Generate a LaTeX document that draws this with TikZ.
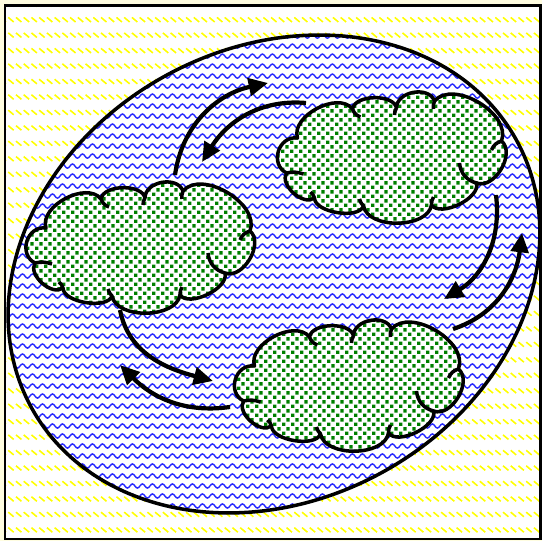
\documentclass[tikz,border=0pt]{standalone}
\usepackage{tikz}
\usetikzlibrary{arrows.meta, patterns, positioning}

\pgfdeclarepatternformonly{dashdiag}{\pgfqpoint{-1pt}{-1pt}}{\pgfqpoint{5.4pt}{9.8pt}}{\pgfqpoint{4.4pt}{8.8pt}}{%
  \pgfsetlinewidth{0.9pt}%
  \pgfpathmoveto{\pgfqpoint{0.3pt}{7.6pt}}%
  \pgfpathlineto{\pgfqpoint{3.4pt}{5pt}}%
  \pgfusepath{stroke}}

\pgfdeclarepatternformonly{bluewave}{\pgfqpoint{-0.5pt}{-0.5pt}}{\pgfqpoint{6.2pt}{6.2pt}}{\pgfqpoint{5.69pt}{5.69pt}}{%
  \pgfsetlinewidth{0.8pt}%
  \pgfpathmoveto{\pgfqpoint{0pt}{2.85pt}}%
  \pgfpathsine{\pgfqpoint{1.42pt}{1.2pt}}%
  \pgfpathcosine{\pgfqpoint{1.42pt}{-1.2pt}}%
  \pgfpathsine{\pgfqpoint{1.42pt}{-1.2pt}}%
  \pgfpathcosine{\pgfqpoint{1.43pt}{1.2pt}}%
  \pgfusepath{stroke}}

\pgfdeclarepatternformonly{greendots}{\pgfqpoint{0pt}{0pt}}{\pgfqpoint{5pt}{5pt}}{\pgfqpoint{5pt}{5pt}}{%
  \pgfpathrectangle{\pgfqpoint{0pt}{0pt}}{\pgfqpoint{2pt}{2pt}}%
  \pgfpathrectangle{\pgfqpoint{2.5pt}{2.5pt}}{\pgfqpoint{2pt}{2pt}}%
  \pgfusepath{fill}}

\begin{document}
\begin{tikzpicture}[x=0.02cm, y=0.02cm,
    cloudline/.style={draw, line width=2pt, line join=round},
    flow/.style={-{Triangle[length=11pt, width=10pt]}, line width=2.4pt},
    puffcloud/.pic={
      \coordinate (-c) at (0,0);
      \path[cloudline, preaction={fill=white}, pattern=greendots, pattern color=green!50!black]
        (-107,-15) to[bend left=80, looseness=1.35] (-96,20)
        to[bend left=80, looseness=0.95] (-41,49)
        to[bend left=80, looseness=0.85] (3,50)
        to[bend left=80, looseness=1.1] (41,57)
        to[bend left=80, looseness=0.95] (108,17)
        to[bend left=80, looseness=1.0] (83,-25)
        to[bend left=80, looseness=0.8] (38,-47)
        to[bend left=80, looseness=0.9] (-30,-48)
        to[bend left=80, looseness=0.75] (-79,-40)
        to[bend left=80, looseness=0.95] (-107,-15) -- cycle;
      % inner arcs
      \draw[cloudline] (-41,49) to[bend right=25] (-33,41);
      \draw[cloudline] (3,50) to[bend right=15] (1,43);
      \draw[cloudline] (41,57) to[bend right=15] (40,49);
      \draw[cloudline] (108,17) to[bend right=25] (98,8);
      \draw[cloudline] (83,-25) to[bend left=35] (66,-5);
      \draw[cloudline] (38,-47) to[bend left=15] (40,-39);
      \draw[cloudline] (-30,-48) to[bend left=15] (-34,-41);
      \draw[cloudline] (-79,-40) to[bend right=15] (-83,-34);
      \draw[cloudline] (-107,-15) to[bend left=15] (-90,-16);
    }
]
    % Page and pool
    \useasboundingbox (0,0) rectangle (542,541);
    \fill[yellow!12] (0,0) rectangle (542,541);
    \draw[line width=1.7pt, preaction={fill=white}, pattern=dashdiag, pattern color=yellow] (5,2) rectangle (540.5,535.5);
    \draw[line width=2pt, preaction={fill=white}, pattern=bluewave, pattern color=blue!85, rotate around={29:(274,267)}] (274,267) ellipse [x radius=5.54cm, y radius=4.52cm];

    % Clouds
    \pic (west) at (142,293) {puffcloud};
    \pic (north) at (393.5,383) {puffcloud};
    \pic (south) at (350.5,155) {puffcloud};

    % Arrow ends
    \coordinate (a1s) at (175,366);
    \coordinate (a1e) at (268,458);
    \coordinate (a2s) at (306,438);
    \coordinate (a2e) at (202,379);
    \coordinate (a3s) at (496,346);
    \coordinate (a3e) at (444,242);
    \coordinate (a4s) at (453,212);
    \coordinate (a4e) at (522,308);
    \coordinate (a5s) at (120,231);
    \coordinate (a5e) at (213,160);
    \coordinate (a6s) at (230,134);
    \coordinate (a6e) at (120,176);

    % Arrows
    \draw[flow] (a1s) to[out=82, in=192] (a1e);
    \draw[flow] (a2s) to[out=175, in=58] (a2e);
    \draw[flow] (a3s) to[out=-83, in=31] (a3e);
    \draw[flow] (a4s) to[out=18, in=263] (a4e);
    \draw[flow] (a5s) to[out=-79, in=165] (a5e);
    \draw[flow] (a6s) to[out=188, in=315] (a6e);
\end{tikzpicture}
\end{document}
